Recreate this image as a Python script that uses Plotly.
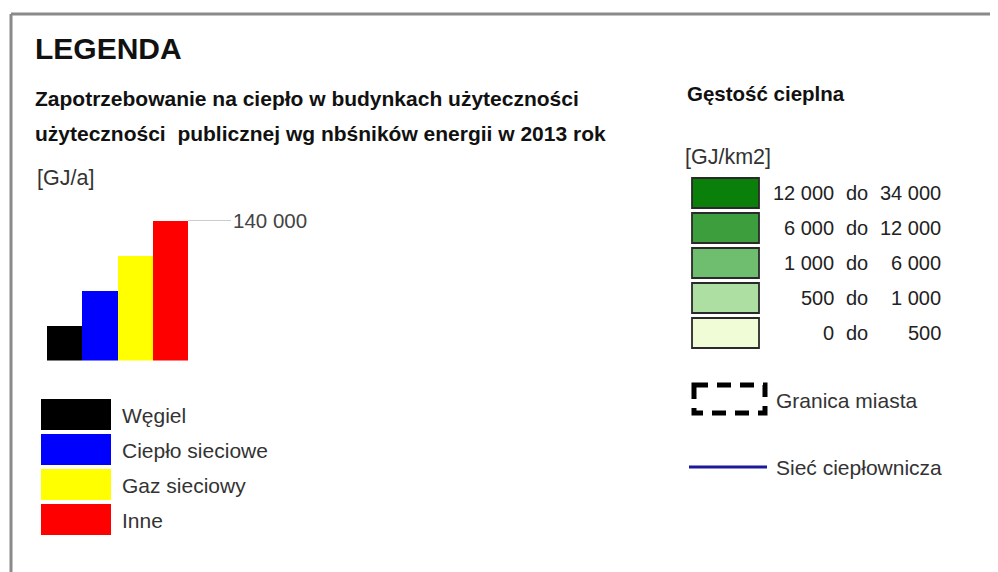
import plotly.graph_objects as go

W, H = 998, 572
OFF = 8  # page body margin

# bar legend: heat demand by energy carrier [GJ/a]
fuels = ["Węgiel", "Ciepło sieciowe", "Gaz sieciowy", "Inne"]
fuel_values = [35000, 70000, 105000, 140000]
fuel_colors = ["#000000", "#0000ff", "#ffff00", "#ff0000"]

# heat density classes [GJ/km2]
density_low = [12000, 6000, 1000, 500, 0]
density_high = [34000, 12000, 6000, 1000, 500]
density_colors = ["#0a7f0a", "#3c9e3c", "#6fbd6f", "#addfa2", "#f0fcd6"]

FONT = "Liberation Sans, Arial, sans-serif"


def fmt(v):
    return f"{v:,}".replace(",", " ")


fig = go.Figure()

# bar symbol drawn on its own small axis
fig.add_trace(go.Bar(
    x=fuels, y=fuel_values,
    marker=dict(color=fuel_colors, line=dict(width=0)),
    xaxis="x2", yaxis="y2", showlegend=False, hoverinfo="skip",
))

bar_left, bar_right, bar_top, bar_bottom = 47, 188, 220.5, 360.5

shapes = []
annotations = []

# frame
shapes.append(dict(type="line", xref="x", yref="y", x0=11, x1=11, y0=14, y1=H + 20,
                   line=dict(color="#8a8a8a", width=3)))
shapes.append(dict(type="line", xref="x", yref="y", x0=11, x1=W + 10, y0=14, y1=14,
                   line=dict(color="#8a8a8a", width=3)))

# leader line to max value
vmax = max(fuel_values)
shapes.append(dict(type="line", xref="x", yref="y2", x0=bar_right, x1=231, y0=vmax, y1=vmax,
                   line=dict(color="#9a9a9a", width=1)))
annotations.append(dict(x=231, y=vmax, xref="x", yref="y2", text=fmt(vmax),
                        xanchor="left", yanchor="middle", showarrow=False,
                        font=dict(size=20.5, color="#444444")))


def txt(x, y, s, size=21, bold=False, color="#222222", xanchor="left"):
    if bold:
        s = "<b>" + s + "</b>"
    annotations.append(dict(x=x, y=y, xref="x", yref="y", text=s, xanchor=xanchor,
                            yanchor="middle", showarrow=False,
                            font=dict(size=size, color=color, family=FONT)))


txt(33, 48, "LEGENDA", size=30, bold=True, color="#111111")
txt(33, 98, "Zapotrzebowanie na ciepło w budynkach użyteczności", size=21, bold=True, color="#111111")
txt(33, 133, "użyteczności  publicznej wg nbśników energii w 2013 rok", size=21, bold=True, color="#111111")
txt(35, 178, "[GJ/a]", size=21.5, color="#333333")

# fuel legend swatches
for i, (name, col) in enumerate(zip(fuels, fuel_colors)):
    y0 = 399 + i * 35
    shapes.append(dict(type="rect", xref="x", yref="y", x0=41, x1=111, y0=y0, y1=y0 + 31,
                       fillcolor=col, line=dict(width=0)))
    txt(120, y0 + 16, name, size=21, color="#333333")

# heat density legend
txt(685, 93, "Gęstość cieplna", size=20.5, bold=True, color="#111111")
txt(683, 157, "[GJ/km2]", size=21.5, color="#333333")
for i, (lo, hi, col) in enumerate(zip(density_low, density_high, density_colors)):
    y0 = 178 + i * 35
    shapes.append(dict(type="rect", xref="x", yref="y", x0=692, x1=759, y0=y0, y1=y0 + 30,
                       fillcolor=col, line=dict(color="#2a2a2a", width=1.8)))
    txt(836, y0 + 15, fmt(lo), size=20, color="#222222", xanchor="right")
    txt(857, y0 + 15, "do", size=20, color="#222222", xanchor="center")
    txt(943, y0 + 15, fmt(hi), size=20, color="#222222", xanchor="right")

# city border symbol
shapes.append(dict(type="rect", xref="x", yref="y", x0=694, x1=765, y0=385, y1=413,
                   line=dict(color="#000000", width=5, dash="14px,9px")))
txt(774, 400, "Granica miasta", size=21, color="#333333")

# heating network symbol
shapes.append(dict(type="line", xref="x", yref="y", x0=689, x1=767, y0=467, y1=467,
                   line=dict(color="#1a1a9a", width=3)))
txt(774, 467, "Sieć ciepłownicza", size=21, color="#333333")

fig.update_layout(
    width=W, height=H,
    margin=dict(l=0, r=0, t=0, b=0),
    paper_bgcolor="white", plot_bgcolor="white",
    font=dict(family=FONT),
    # ranges shifted so that coordinates are screen pixels of the reference
    xaxis=dict(range=[OFF, W + OFF], visible=False, domain=[0, 1], fixedrange=True),
    yaxis=dict(range=[H + OFF, OFF], visible=False, domain=[0, 1], fixedrange=True),
    xaxis2=dict(domain=[(bar_left - OFF) / W, (bar_right - OFF) / W], range=[-0.5, 3.5],
                visible=False, anchor="y2", fixedrange=True),
    yaxis2=dict(domain=[1 - (bar_bottom - OFF) / H, 1 - (bar_top - OFF) / H], range=[0, vmax],
                visible=False, anchor="x2", fixedrange=True),
    bargap=0,
    shapes=shapes,
    annotations=annotations,
)

fig.write_html("out.html", config={"displayModeBar": False})
